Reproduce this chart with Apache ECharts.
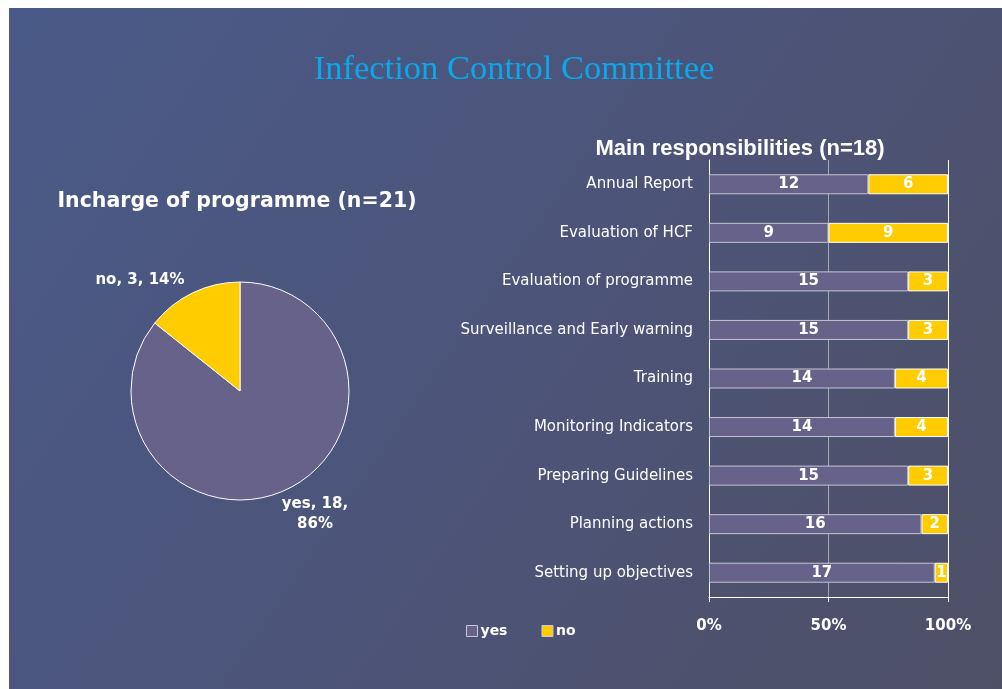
<!DOCTYPE html>
<html>
<head>
<meta charset="utf-8">
<script src="https://cdn.jsdelivr.net/npm/echarts@6/dist/echarts.min.js"></script>
<style>
  html, body { margin: 0; padding: 0; background: #fff; }
  #main { width: 1002px; height: 689px; }
</style>
</head>
<body>
<div id="main"></div>
<script>
// pie: who is in charge
const pieNames = ["yes", "no"];
const pieValues = [18, 3];
const piePercents = ["86%", "14%"];

// stacked bars: main responsibilities (n=18)
const categories = [
  "Annual Report",
  "Evaluation of HCF",
  "Evaluation of programme",
  "Surveillance and Early warning",
  "Training",
  "Monitoring Indicators",
  "Preparing Guidelines",
  "Planning actions",
  "Setting up objectives"
];
const yesValues = [12, 9, 15, 15, 14, 14, 15, 16, 17];
const noValues = [6, 9, 3, 3, 4, 4, 3, 2, 1];
const total = 18;
const xTickPercents = [0, 50, 100];

const purple = "#67628a";
const yellow = "#ffcc00";
const boldFont = "DejaVu Sans";

const myChart = echarts.init(document.getElementById("main"));

const options = {
  backgroundColor: "#ffffff",
  graphic: [
    {
      type: "rect",
      z: -10,
      shape: { x: 9, y: 8, width: 993, height: 681 },
      style: {
        fill: new echarts.graphic.LinearGradient(0, 0, 1, 1, [
          { offset: 0, color: "#4a5a88" },
          { offset: 0.5, color: "#4c5479" },
          { offset: 1, color: "#4e5066" }
        ])
      },
      silent: true
    }
  ],
  title: [
    {
      text: "Infection Control Committee",
      left: 509, top: 47, textAlign: "center",
      textStyle: { fontFamily: "Liberation Serif", fontSize: 34.5, fontWeight: "normal", color: "#0aa8ea" }
    },
    {
      text: "Incharge of programme (n=21)",
      left: 232, top: 186, textAlign: "center",
      textStyle: { fontFamily: boldFont, fontSize: 20.5, fontWeight: "bold", color: "#fff" }
    },
    {
      text: "Main responsibilities (n=18)",
      left: 735, top: 133, textAlign: "center",
      textStyle: { fontFamily: "Liberation Sans", fontSize: 22, fontWeight: "bold", color: "#fff" }
    }
  ],
  legend: {
    left: 461, top: 619,
    itemWidth: 11, itemHeight: 11, itemGap: 34,
    icon: "rect",
    data: ["yes", "no"],
    textStyle: { color: "#fff", fontFamily: boldFont, fontSize: 14, fontWeight: "bold", padding: [0, 0, 0, -2] },
    itemStyle: { borderColor: "#c8c8d8", borderWidth: 1 }
  },
  grid: { left: 709, right: 54, top: 160, bottom: 92 },
  xAxis: {
    type: "value",
    min: 0, max: total, interval: total / 2,
    axisLine: { show: true, lineStyle: { color: "#fff", width: 1 } },
    axisTick: { show: true, length: 5, lineStyle: { color: "#fff" } },
    splitLine: { show: true, lineStyle: { color: ["#fff", "#a8a8b4", "#fff"], width: 1 } },
    axisLabel: {
      color: "#fff", fontFamily: boldFont, fontSize: 15, fontWeight: "bold", margin: 22,
      formatter: v => xTickPercents[Math.round(v / (total / 2))] + "%"
    }
  },
  yAxis: {
    type: "category",
    inverse: true,
    data: categories,
    axisLine: { show: true, lineStyle: { color: "#fff" } },
    axisTick: { show: false },
    axisLabel: { color: "#fff", fontFamily: "DejaVu Sans", fontSize: 15, margin: 16 }
  },
  series: [
    {
      type: "pie",
      center: [240, 391],
      radius: 109,
      startAngle: 90,
      clockwise: true,
      itemStyle: { borderColor: "#fff", borderWidth: 1 },
      label: {
        show: true, position: "outside",
        color: "#fff", fontFamily: boldFont, fontSize: 15, fontWeight: "bold", lineHeight: 20,
        formatter: p => p.dataIndex === 0
          ? p.name + ", " + p.value + ",\n" + piePercents[p.dataIndex]
          : p.name + ", " + p.value + ", " + piePercents[p.dataIndex]
      },
      labelLine: { show: false },
      labelLayout: p => p.dataIndex === 0
        ? { x: 315, y: 514, align: "center", verticalAlign: "middle" }
        : { x: 140, y: 280, align: "center", verticalAlign: "middle" },
      data: pieNames.map((n, i) => ({
        name: n, value: pieValues[i],
        itemStyle: { color: i === 0 ? purple : yellow },
        label: { align: "center" }
      }))
    },
    {
      name: "yes", type: "bar", stack: "r",
      barWidth: 20,
      itemStyle: { color: purple, borderColor: "#c4c4d2", borderWidth: 1 },
      label: { show: true, color: "#fff", fontFamily: boldFont, fontSize: 15, fontWeight: "bold" },
      data: yesValues
    },
    {
      name: "no", type: "bar", stack: "r",
      barWidth: 20,
      itemStyle: { color: yellow, borderColor: "#fff", borderWidth: 1 },
      label: { show: true, color: "#fff", fontFamily: boldFont, fontSize: 15, fontWeight: "bold" },
      data: noValues
    }
  ]
};

myChart.setOption(options);
</script>
</body>
</html>
